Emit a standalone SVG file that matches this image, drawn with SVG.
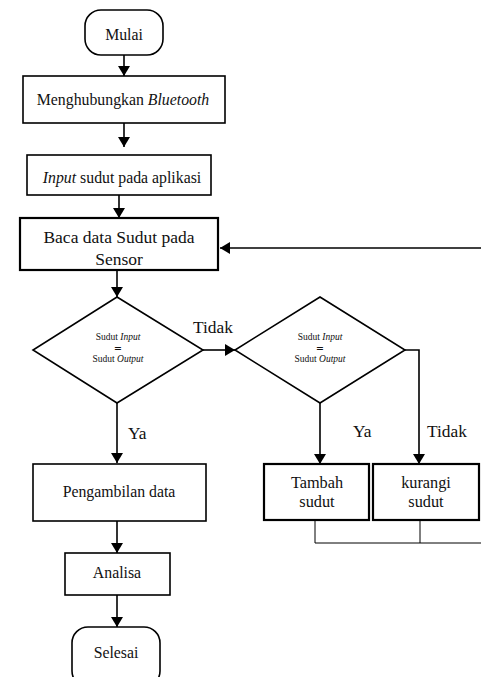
<svg xmlns="http://www.w3.org/2000/svg" width="481" height="677" viewBox="0 0 481 677">
<style>
.s{fill:#fff;stroke:#000;stroke-width:1.6}
.t{fill:#fff;stroke:#000;stroke-width:2.2}
.c{fill:none;stroke:#000;stroke-width:1.6}
.th{fill:none;stroke:#000;stroke-width:1}
text{font-family:"Liberation Serif","Times New Roman",serif;fill:#111;text-anchor:middle}
.m{font-size:15.8px}
.b{font-size:17.5px}
.k{font-size:16.3px}
.l{font-size:17.4px;text-anchor:start}
.d{font-size:9.5px}
.e{font-size:13px;font-weight:bold}
</style>
<defs>
<marker id="ah" markerWidth="12" markerHeight="12" refX="10" refY="6" orient="auto" markerUnits="userSpaceOnUse">
<path d="M0,0 L10,6 L0,12 Z" fill="#000"/>
</marker>
</defs>
<g id="connectors">
<line class="c" x1="124" y1="55" x2="124" y2="76" marker-end="url(#ah)"/>
<line class="c" x1="124" y1="123" x2="124" y2="147" marker-end="url(#ah)"/>
<line class="c" x1="119" y1="195" x2="119" y2="218" marker-end="url(#ah)"/>
<line class="c" x1="481" y1="248" x2="220" y2="248" marker-end="url(#ah)"/>
<line class="c" x1="117" y1="270" x2="117" y2="297" marker-end="url(#ah)"/>
<line class="c" x1="203" y1="350" x2="235" y2="350" marker-end="url(#ah)"/>
<line class="c" x1="117" y1="403" x2="117" y2="463" marker-end="url(#ah)"/>
<line class="c" x1="320" y1="403" x2="320" y2="464" marker-end="url(#ah)"/>
<polyline class="c" points="405,350 419,350 419,464" marker-end="url(#ah)"/>
<line class="c" x1="117" y1="521" x2="117" y2="553" marker-end="url(#ah)"/>
<line class="c" x1="117" y1="595" x2="117" y2="627" marker-end="url(#ah)"/>
<polyline class="th" points="315,520 315,543 481,543"/>
<line class="th" x1="420" y1="520" x2="420" y2="543"/>
<text class="l" x="193" y="333">Tidak</text>
<text class="l" x="128" y="439">Ya</text>
<text class="l" x="353" y="437">Ya</text>
<text class="l" x="427" y="437">Tidak</text>
</g>
<g id="mulai">
<rect class="s" x="85" y="10" width="78" height="45" rx="16"/>
<text class="m" x="124" y="40">Mulai</text>
</g>
<g id="bluetooth">
<rect class="s" x="23" y="76" width="202" height="47"/>
<text class="m" x="123" y="105">Menghubungkan <tspan font-style="italic">Bluetooth</tspan></text>
</g>
<g id="input">
<rect class="s" x="27" y="155" width="184" height="40"/>
<text class="m" x="122" y="183"><tspan font-style="italic">Input</tspan> sudut pada aplikasi</text>
</g>
<g id="baca">
<rect class="t" x="20" y="218" width="198" height="52"/>
<text class="b" x="119" y="243">Baca data Sudut pada</text>
<text class="b" x="119" y="265">Sensor</text>
</g>
<g id="cek1">
<polygon class="s" points="117,297 203,350 117,403 33,350"/>
<text class="d" x="118" y="340">Sudut <tspan font-style="italic">Input</tspan></text>
<text class="e" x="118" y="353">=</text>
<text class="d" x="118" y="362">Sudut <tspan font-style="italic">Output</tspan></text>
</g>
<g id="cek2">
<polygon class="s" points="320,297 405,350 320,403 235,350"/>
<text class="d" x="320" y="340">Sudut <tspan font-style="italic">Input</tspan></text>
<text class="e" x="320" y="353">=</text>
<text class="d" x="320" y="362">Sudut <tspan font-style="italic">Output</tspan></text>
</g>
<g id="tambah">
<rect class="t" x="264" y="464" width="105" height="56"/>
<text class="k" x="317" y="488">Tambah</text>
<text class="k" x="317" y="507">sudut</text>
</g>
<g id="kurangi">
<rect class="t" x="373" y="464" width="106" height="56"/>
<text class="k" x="426" y="488">kurangi</text>
<text class="k" x="426" y="507">sudut</text>
</g>
<g id="pengambilan">
<rect class="s" x="33" y="464" width="173" height="57"/>
<text class="m" x="119" y="497">Pengambilan data</text>
</g>
<g id="analisa">
<rect class="s" x="65" y="553" width="105" height="42"/>
<text class="m" x="117" y="578">Analisa</text>
</g>
<g id="selesai">
<rect class="s" x="72" y="627" width="88" height="60" rx="16"/>
<text class="m" x="116" y="658">Selesai</text>
</g>
</svg>
